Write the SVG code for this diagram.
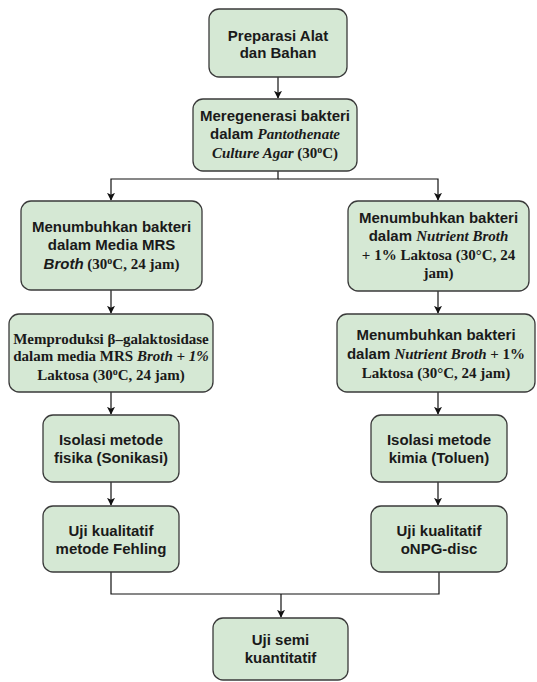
<svg xmlns="http://www.w3.org/2000/svg" width="537" height="682" viewBox="0 0 537 682">
<style>
.box{fill:#d5e8d4;stroke:#3a3a3a;stroke-width:1.3}
.t{font-family:"Liberation Sans",Arial,sans-serif;font-weight:bold;font-size:15px;fill:#1a1a1a;text-anchor:middle}
.s{font-family:"Liberation Serif","Times New Roman",serif;font-weight:bold}
.i{font-style:italic}
.c{fill:none;stroke:#111;stroke-width:1.2}
</style>
<defs>
<marker id="ah" viewBox="0 0 10 10" refX="9" refY="5" markerWidth="8" markerHeight="8" markerUnits="userSpaceOnUse" orient="auto">
<path d="M0,0 L10,5 L0,10 L2.5,5 Z" fill="#111"/>
</marker>
</defs>
<g id="connectors">
<path class="c" d="M278,77 V98" marker-end="url(#ah)"/>
<path class="c" d="M278,171 V179 H111 V200" marker-end="url(#ah)"/>
<path class="c" d="M278,179 H438 V200" marker-end="url(#ah)"/>
<path class="c" d="M111,290 V313" marker-end="url(#ah)"/>
<path class="c" d="M111,392 V414" marker-end="url(#ah)"/>
<path class="c" d="M111,482 V505" marker-end="url(#ah)"/>
<path class="c" d="M438,291 V313" marker-end="url(#ah)"/>
<path class="c" d="M438,392 V414" marker-end="url(#ah)"/>
<path class="c" d="M438,482 V505" marker-end="url(#ah)"/>
<path class="c" d="M111,572 V594 H439 V572"/>
<path class="c" d="M281,594 V617" marker-end="url(#ah)"/>
</g>
<g id="n1">
<rect class="box" x="209" y="9" width="138" height="68" rx="10"/>
<text class="t" x="278" y="41">Preparasi Alat</text>
<text class="t" x="278" y="58">dan Bahan</text>
</g>
<g id="n2">
<rect class="box" x="193" y="99" width="164" height="72" rx="10"/>
<text class="t" x="275" y="121">Meregenerasi bakteri</text>
<text class="t" x="275" y="139">dalam <tspan class="s i">Pantothenate</tspan></text>
<text class="t" x="275" y="158"><tspan class="s i">Culture Agar</tspan><tspan class="s"> (30<tspan font-size="10" dy="-5">o</tspan><tspan dy="5">C)</tspan></tspan></text>
</g>
<g id="n3">
<rect class="box" x="21" y="201" width="181" height="89" rx="10"/>
<text class="t" x="111.5" y="232">Menumbuhkan bakteri</text>
<text class="t" x="111.5" y="250">dalam Media MRS</text>
<text class="t" x="111.5" y="269"><tspan class="i">Broth</tspan><tspan class="s"> (30<tspan font-size="10" dy="-5">o</tspan><tspan dy="5">C, 24 jam)</tspan></tspan></text>
</g>
<g id="n4">
<rect class="box" x="9" y="314" width="204" height="78" rx="10"/>
<text class="t s" x="111" y="344">Memproduksi β–galaktosidase</text>
<text class="t s" x="111" y="361">dalam media MRS <tspan class="i">Broth + 1%</tspan></text>
<text class="t s" x="111" y="380">Laktosa (30<tspan font-size="10" dy="-5">o</tspan><tspan dy="5">C, 24 jam)</tspan></text>
</g>
<g id="n5">
<rect class="box" x="348" y="201" width="181" height="90" rx="10"/>
<text class="t" x="438.5" y="223">Menumbuhkan bakteri</text>
<text class="t" x="438.5" y="241">dalam <tspan class="s i">Nutrient Broth</tspan></text>
<text class="t s" x="438.5" y="260">+ 1% Laktosa (30°C, 24</text>
<text class="t s" x="438.5" y="278">jam)</text>
</g>
<g id="n6">
<rect class="box" x="337" y="314" width="198" height="78" rx="10"/>
<text class="t" x="436" y="340">Menumbuhkan bakteri</text>
<text class="t" x="436" y="359">dalam <tspan class="s i">Nutrient Broth</tspan><tspan class="s"> + 1%</tspan></text>
<text class="t s" x="436" y="378">Laktosa (30°C, 24 jam)</text>
</g>
<g id="n7">
<rect class="box" x="43" y="415" width="136" height="67" rx="10"/>
<text class="t" x="111" y="445">Isolasi metode</text>
<text class="t" x="111" y="463">fisika (Sonikasi)</text>
</g>
<g id="n8">
<rect class="box" x="43" y="506" width="136" height="66" rx="10"/>
<text class="t" x="111" y="536">Uji kualitatif</text>
<text class="t" x="111" y="554">metode Fehling</text>
</g>
<g id="n9">
<rect class="box" x="371" y="415" width="136" height="67" rx="10"/>
<text class="t" x="439" y="445">Isolasi metode</text>
<text class="t" x="439" y="463">kimia (Toluen)</text>
</g>
<g id="n10">
<rect class="box" x="371" y="506" width="136" height="66" rx="10"/>
<text class="t" x="439" y="536">Uji kualitatif</text>
<text class="t" x="439" y="554">oNPG-disc</text>
</g>
<g id="n11">
<rect class="box" x="213" y="618" width="135" height="62" rx="10"/>
<text class="t" x="280.5" y="645">Uji semi</text>
<text class="t" x="280.5" y="663">kuantitatif</text>
</g>
</svg>
